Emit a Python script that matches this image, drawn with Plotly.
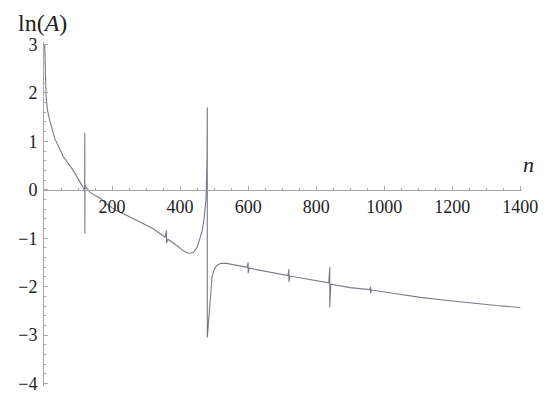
import plotly.graph_objects as go

# Data (n, ln A); vertical spikes are narrow resonances
n_vals = [2, 4, 6, 10, 18, 32, 57, 86, 105, 114, 119.5, 120, 120, 120.5, 124, 135, 150, 165,
          185, 210, 244, 280, 320, 356, 360, 360, 364, 390, 410, 424, 438, 450, 459, 465, 471,
          476, 479, 480, 480, 483, 487, 494, 500, 508, 520, 537, 560, 597, 600, 600, 603, 660,
          717, 720, 720, 723, 780, 837, 840, 840, 843, 900, 957, 960, 960, 963, 1030, 1106,
          1180, 1253, 1330, 1400]
lnA_vals = [3.0, 2.4, 1.95, 1.65, 1.4, 1.05, 0.68, 0.4, 0.18, 0.06, -0.03, 1.17, -0.9, 0.1,
            0.05, -0.05, -0.12, -0.17, -0.3, -0.42, -0.53, -0.65, -0.8, -0.98, -0.84, -1.1,
            -1.02, -1.15, -1.26, -1.31, -1.3, -1.19, -1.0, -0.85, -0.57, -0.2, 0.5, 1.7, -3.05,
            -2.8, -2.3, -1.8, -1.65, -1.56, -1.52, -1.52, -1.55, -1.6, -1.5, -1.72, -1.62, -1.7,
            -1.77, -1.64, -1.9, -1.78, -1.85, -1.92, -1.6, -2.43, -1.95, -2.02, -2.06, -2.0,
            -2.13, -2.07, -2.14, -2.22, -2.28, -2.34, -2.39, -2.43]

x_ticks = [200, 400, 600, 800, 1000, 1200, 1400]
x_ticktext = ["200", "400", "600", "800", "1000", "1200", "1400"]
y_ticks = [-4, -3, -2, -1, 0, 1, 2, 3]
y_ticktext = ["\u22124", "\u22123", "\u22122", "\u22121", "0", "1", "2", "3"]

axis_color = "#a8a8a8"
font_family = "Liberation Serif, DejaVu Serif, serif"

fig = go.Figure()
fig.add_trace(go.Scatter(x=n_vals, y=lnA_vals, mode="lines",
                         line=dict(color="#7a7a88", width=1.1), hoverinfo="skip"))

# the page body adds an 8px offset, so the figure is 8px smaller than the window
y_range = [-4.05, 3.05]
fig.update_layout(
    width=538, height=390,
    margin=dict(l=36, r=24, t=34, b=12, autoexpand=False),
    plot_bgcolor="white", paper_bgcolor="white",
    showlegend=False,
    xaxis=dict(range=[0, 1405], anchor="free", position=(0 - y_range[0]) / (y_range[1] - y_range[0]),
               automargin=False,
               showline=True, linecolor=axis_color, linewidth=1,
               ticks="inside", ticklen=4, tickcolor=axis_color,
               tickvals=x_ticks, ticktext=x_ticktext,
               minor=dict(dtick=50, ticks="inside", ticklen=2, tickcolor=axis_color),
               showgrid=False, zeroline=False, ticklabelstandoff=1,
               tickfont=dict(family=font_family, size=18, color="#222")),
    yaxis=dict(range=y_range, automargin=False,
               showline=True, linecolor=axis_color, linewidth=1,
               ticks="inside", ticklen=4, tickcolor=axis_color,
               tickvals=y_ticks, ticktext=y_ticktext,
               minor=dict(dtick=0.2, ticks="inside", ticklen=2, tickcolor=axis_color),
               showgrid=False, zeroline=False, ticklabelstandoff=2,
               tickfont=dict(family=font_family, size=18, color="#222")),
    annotations=[
        dict(text="ln(<i>A</i>)", xref="paper", yref="paper", x=-0.004, y=1.056,
             xanchor="center", yanchor="middle", showarrow=False,
             font=dict(family=font_family, size=24, color="#222")),
        dict(text="<i>n</i>", xref="paper", yref="paper", x=1.0126, y=0.645,
             xanchor="center", yanchor="middle", showarrow=False,
             font=dict(family=font_family, size=22, color="#222")),
    ],
)

fig.write_html("out.html")
